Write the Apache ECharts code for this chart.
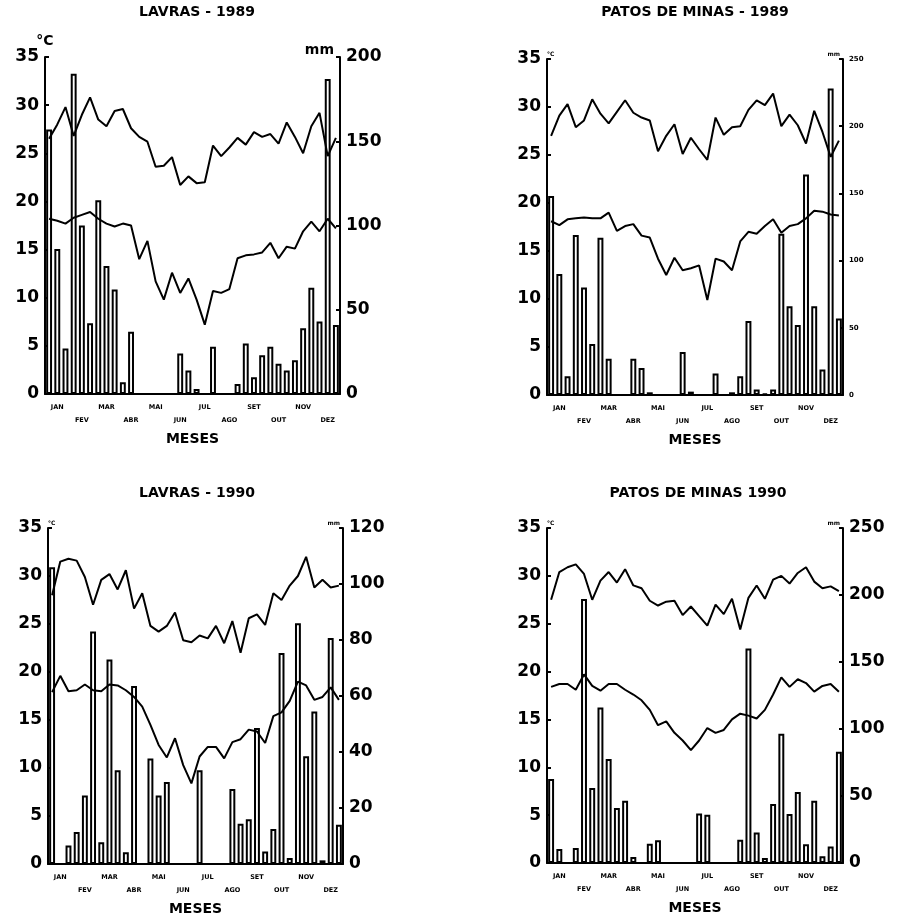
<!DOCTYPE html>
<html>
<head>
<meta charset="utf-8">
<title>Lavras e Patos de Minas 1989-1990</title>
<script src="https://cdn.jsdelivr.net/npm/echarts@6/dist/echarts.min.js"></script>
<style>
html, body { margin: 0; padding: 0; background: #fff; }
#chartmain { width: 898px; height: 921px; }
</style>
</head>
<body>
<div id="chartmain"></div>
<script>
// meses e decendios (3 por mes)
var meses = ['JAN', 'FEV', 'MAR', 'ABR', 'MAI', 'JUN', 'JUL', 'AGO', 'SET', 'OUT', 'NOV', 'DEZ'];
var decendios = ['1', '2', '3'];

// LAVRAS - 1989 (temperatura em oC, chuva em mm)
var tmaxLavras89 = [26.5, 28, 29.8, 26.8, 29, 30.8, 28.5, 27.8, 29.4, 29.6, 27.6, 26.7, 26.2, 23.6, 23.7, 24.6, 21.7, 22.6, 21.9, 22, 25.8, 24.7, 25.6, 26.6, 25.9, 27.2, 26.7, 27, 26, 28.2, 26.7, 25, 27.8, 29.2, 24.7, 26.6];
var tminLavras89 = [18.2, 18, 17.7, 18.3, 18.6, 18.9, 18.2, 17.7, 17.4, 17.7, 17.5, 14, 15.9, 11.7, 9.8, 12.6, 10.5, 12, 9.8, 7.2, 10.7, 10.5, 10.9, 14.1, 14.4, 14.5, 14.7, 15.7, 14.1, 15.3, 15.1, 16.9, 17.9, 16.9, 18.2, 17.2];
var chuvaLavras89 = [157, 86, 27, 190, 100, 42, 115, 76, 62, 7, 37, 0, 0, 0, 0, 0, 24, 14, 3, 0, 28, 0, 0, 6, 30, 10, 23, 28, 18, 14, 20, 39, 63, 43, 187, 41];

// PATOS DE MINAS - 1989
var tmaxPatos89 = [27, 29.1, 30.3, 27.9, 28.6, 30.8, 29.3, 28.3, 29.5, 30.7, 29.4, 28.9, 28.6, 25.4, 27, 28.2, 25.1, 26.8, 25.6, 24.5, 28.9, 27.1, 27.9, 28, 29.7, 30.7, 30.2, 31.4, 28, 29.2, 28.1, 26.2, 29.6, 27.4, 24.8, 26.5];
var tminPatos89 = [18.1, 17.7, 18.3, 18.4, 18.5, 18.4, 18.4, 19, 17.1, 17.6, 17.8, 16.6, 16.4, 14.2, 12.5, 14.3, 13, 13.2, 13.5, 9.9, 14.2, 13.9, 13, 16, 17, 16.8, 17.6, 18.3, 16.9, 17.6, 17.8, 18.4, 19.2, 19.1, 18.8, 18.7];
var chuvaPatos89 = [148, 90, 14, 119, 80, 38, 117, 27, 0, 0, 27, 20, 2, 0, 0, 0, 32, 2.5, 0, 0, 16, 0, 2, 14, 55, 4, 1, 4, 120, 66, 52, 164, 66, 19, 228, 57];

// LAVRAS - 1990
var tmaxLavras90 = [28, 31.5, 31.8, 31.6, 29.9, 27, 29.6, 30.2, 28.6, 30.6, 26.6, 28.2, 24.8, 24.2, 24.8, 26.2, 23.3, 23.1, 23.8, 23.5, 24.8, 23, 25.3, 22, 25.6, 26, 24.9, 28.2, 27.5, 29, 30, 32, 28.8, 29.6, 28.8, 29];
var tminLavras90 = [17.9, 19.6, 18, 18.1, 18.7, 18.1, 18, 18.7, 18.6, 18.1, 17.4, 16.4, 14.5, 12.4, 11.1, 13.1, 10.3, 8.4, 11.2, 12.2, 12.2, 11, 12.7, 13, 14, 13.8, 12.6, 15.4, 15.8, 17, 19, 18.6, 17.1, 17.4, 18.4, 17.1];
var chuvaLavras90 = [106, 0, 6.6, 11.4, 24.5, 83, 7.8, 73, 33.5, 4.2, 63.6, 0, 37.7, 24.5, 29.3, 0, 0, 0, 33.5, 0, 0, 0, 26.8, 14.4, 16, 48.6, 4.5, 12.5, 75.4, 2.1, 86, 38.5, 54.5, 1.3, 80.7, 14];

// PATOS DE MINAS 1990
var tmaxPatos90 = [27.5, 30.4, 30.9, 31.2, 30.2, 27.5, 29.5, 30.4, 29.3, 30.7, 29, 28.7, 27.4, 26.9, 27.3, 27.4, 25.9, 26.8, 25.8, 24.8, 27, 26, 27.6, 24.4, 27.7, 29, 27.6, 29.6, 30, 29.2, 30.3, 30.9, 29.4, 28.7, 28.9, 28.4];
var tminPatos90 = [18.4, 18.7, 18.7, 18.1, 19.7, 18.5, 18, 18.7, 18.7, 18.1, 17.6, 17, 16, 14.4, 14.8, 13.6, 12.8, 11.8, 12.8, 14.1, 13.6, 13.9, 15, 15.6, 15.4, 15.1, 16, 17.6, 19.4, 18.4, 19.2, 18.8, 17.9, 18.5, 18.7, 17.9];
var chuvaPatos90 = [62.7, 10.5, 0, 11.2, 197, 56, 116, 77.7, 41, 46.5, 4.5, 0, 14.4, 17, 0, 0, 0, 0, 37, 36, 0, 0, 0, 17.3, 160, 22.8, 3.7, 44, 96.5, 36.6, 53, 14, 46.5, 5, 12.4, 83];

// escalas dos eixos
var tempMax = 35, tempInterval = 5;
var chuvaMax = [200, 250, 120, 250];
var chuvaInterval = [50, 50, 20, 50];

var fonte = 'DejaVu Sans';

function setChartMain() {
    var categorias = [];
    meses.forEach(function (m) {
        decendios.forEach(function (d) { categorias.push(m + d); });
    });

    var paineis = [
        { titulo: 'LAVRAS - 1989', tmax: tmaxLavras89, tmin: tminLavras89, chuva: chuvaLavras89,
          grid: { left: 45, top: 57, width: 295, height: 337 }, cx: 197, ty: 12, big: true, bigRight: true },
        { titulo: 'PATOS DE MINAS - 1989', tmax: tmaxPatos89, tmin: tminPatos89, chuva: chuvaPatos89,
          grid: { left: 547, top: 59, width: 296, height: 336 }, cx: 695, ty: 12, big: false, bigRight: false },
        { titulo: 'LAVRAS - 1990', tmax: tmaxLavras90, tmin: tminLavras90, chuva: chuvaLavras90,
          grid: { left: 48, top: 528, width: 295, height: 336 }, cx: 197, ty: 493, big: false, bigRight: true },
        { titulo: 'PATOS DE MINAS 1990', tmax: tmaxPatos90, tmin: tminPatos90, chuva: chuvaPatos90,
          grid: { left: 547, top: 528, width: 296, height: 335 }, cx: 698, ty: 493, big: false, bigRight: true }
    ];

    var option = {
        backgroundColor: '#fff',
        animation: false,
        grid: [], xAxis: [], yAxis: [], series: [], graphic: []
    };

    paineis.forEach(function (p, i) {
        option.grid.push(p.grid);
        option.graphic.push({
            type: 'text', x: p.cx, y: p.ty,
            style: { text: p.titulo, fill: '#000', font: 'bold 14px "' + fonte + '"',
                     textAlign: 'center', textVerticalAlign: 'middle', align: 'center', verticalAlign: 'middle' }
        });
        option.xAxis.push({
            type: 'category', gridIndex: i, data: categorias, boundaryGap: true,
            name: 'MESES', nameLocation: 'middle', nameGap: 38,
            nameTextStyle: { color: '#000', fontFamily: fonte, fontWeight: 'bold', fontSize: 14 },
            axisLine: { lineStyle: { color: '#000', width: 2 } },
            axisTick: { show: false },
            axisLabel: {
                interval: function (idx) { return idx % 3 === 1; },
                formatter: function (v, idx) {
                    var m = Math.floor(idx / 3);
                    return (m % 2 === 1 ? '\n' : '') + meses[m];
                },
                color: '#000', fontFamily: fonte, fontWeight: 'bold', fontSize: 6.5, lineHeight: 13, margin: 7
            },
            splitLine: { show: false }
        });
        // eixo da temperatura (esquerda)
        option.yAxis.push({
            type: 'value', gridIndex: i, position: 'left', min: 0, max: tempMax, interval: tempInterval,
            name: '°C', nameLocation: 'end', nameGap: p.big ? 5 : 2,
            nameTextStyle: { color: '#000', fontFamily: fonte, fontWeight: 'bold', fontSize: p.big ? 14 : 6,
                             align: p.big ? 'center' : 'left' },
            axisLine: { show: true, lineStyle: { color: '#000', width: 2 } },
            axisTick: { show: true, inside: true, length: 4, lineStyle: { color: '#000', width: 2 } },
            axisLabel: { color: '#000', fontFamily: fonte, fontWeight: 'bold', fontSize: 17, margin: 6 },
            splitLine: { show: false }
        });
        // eixo da chuva (direita)
        option.yAxis.push({
            type: 'value', gridIndex: i, position: 'right', min: 0, max: chuvaMax[i], interval: chuvaInterval[i],
            name: 'mm', nameLocation: 'end', nameGap: p.big ? 0 : 2,
            nameTextStyle: { color: '#000', fontFamily: fonte, fontWeight: 'bold', fontSize: p.big ? 14 : 6,
                             align: 'right', padding: p.big ? [0, 6, 0, 0] : [0, 3, 0, 0] },
            axisLine: { show: true, lineStyle: { color: '#000', width: 2 } },
            axisTick: { show: true, inside: true, length: 4, lineStyle: { color: '#000', width: 2 } },
            axisLabel: { color: '#000', fontFamily: fonte, fontWeight: 'bold', fontSize: p.bigRight ? 17 : 7, margin: 6 },
            splitLine: { show: false }
        });
        option.series.push({
            name: 'Chuva', type: 'bar', xAxisIndex: i, yAxisIndex: 2 * i + 1,
            data: p.chuva, barWidth: '72%',
            itemStyle: { color: '#fff', borderColor: '#000', borderWidth: 2 }
        });
        option.series.push({
            name: 'T max', type: 'line', xAxisIndex: i, yAxisIndex: 2 * i,
            data: p.tmax, symbol: 'none', lineStyle: { color: '#000', width: 2 }
        });
        option.series.push({
            name: 'T min', type: 'line', xAxisIndex: i, yAxisIndex: 2 * i,
            data: p.tmin, symbol: 'none', lineStyle: { color: '#000', width: 2 }
        });
    });

    var myChart = echarts.init(document.getElementById('chartmain'));
    myChart.setOption(option);
}
setChartMain();
</script>
</body>
</html>
